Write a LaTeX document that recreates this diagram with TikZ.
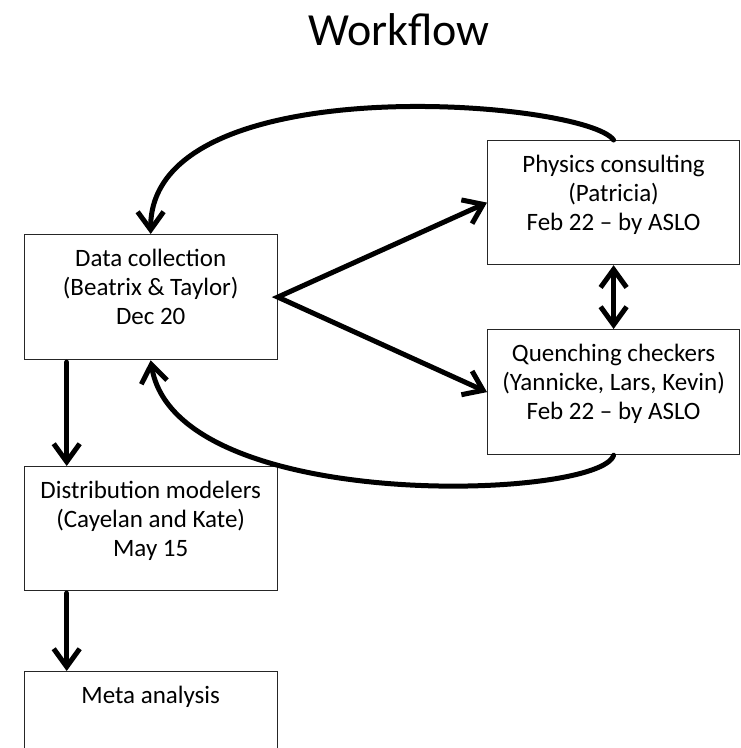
\documentclass[tikz,border=0pt]{standalone}
\usepackage{fontspec}
\setmainfont{Carlito}
\usetikzlibrary{arrows.meta}
\begin{document}
\begin{tikzpicture}[x=1pt,y=-1pt,
  box/.style={draw=black!85, line width=1.2pt, rectangle, inner sep=0pt, minimum width=253pt, minimum height=125pt, anchor=north west},
  txt/.style={anchor=north, inner sep=0pt, align=center, font=\fontsize{25}{29}\selectfont, yshift=-10pt},
  tipb/.tip={Straight Barb[length=18pt,width=26pt]},
  conn/.style={line width=5pt, line cap=round, -tipb},
]
\useasboundingbox (0,0) rectangle (740,748);
\clip (0,0) rectangle (740,748);

\node[font=\fontsize{46}{50}\selectfont, anchor=base, inner sep=0pt] (title) at (399,45) {Workflow};

\node[box] (data) at (23.6,234) {};
\node[box, minimum width=252pt, minimum height=124pt] (phys) at (487,140) {};
\node[box, minimum width=252pt] (quench) at (487,329) {};
\node[box, minimum height=124pt] (distr) at (23.6,466) {};
\node[box, minimum height=140pt] (meta) at (23.6,671) {};

\node[txt] (datat) at (data.north) {\rule{0pt}{22pt}Data collection\\(Beatrix \& Taylor)\\Dec 20};
\node[txt] (physt) at (phys.north) {\rule{0pt}{22pt}Physics consulting\\(Patricia)\\Feb 22 – by ASLO};
\node[txt] (quencht) at (quench.north) {\rule{0pt}{22pt}Quenching checkers\\(Yannicke, Lars, Kevin)\\Feb 22 – by ASLO};
\node[txt] (distrt) at (distr.north) {\rule{0pt}{22pt}Distribution modelers\\(Cayelan and Kate)\\May 15};
\node[txt] (metat) at (meta.north) {\rule{0pt}{22pt}Meta analysis};

\draw[conn] (phys.north) .. controls (585,100) and (150,65) .. (data.north);
\draw[conn] (quench.south) .. controls (600,500) and (175,515) .. (data.south);
\draw[line width=5pt, line join=miter, tipb-tipb] (phys.west) -- (data.east) -- (quench.west);
\draw[line width=5pt, tipb-tipb] (phys.south) -- (quench.north);
\draw[conn, shorten <=2pt] ([xshift=-84pt]data.south) -- ([xshift=-84pt]distr.north);
\draw[conn, shorten <=2pt] ([xshift=-84pt]distr.south) -- ([xshift=-84pt]meta.north);
\end{tikzpicture}
\end{document}
